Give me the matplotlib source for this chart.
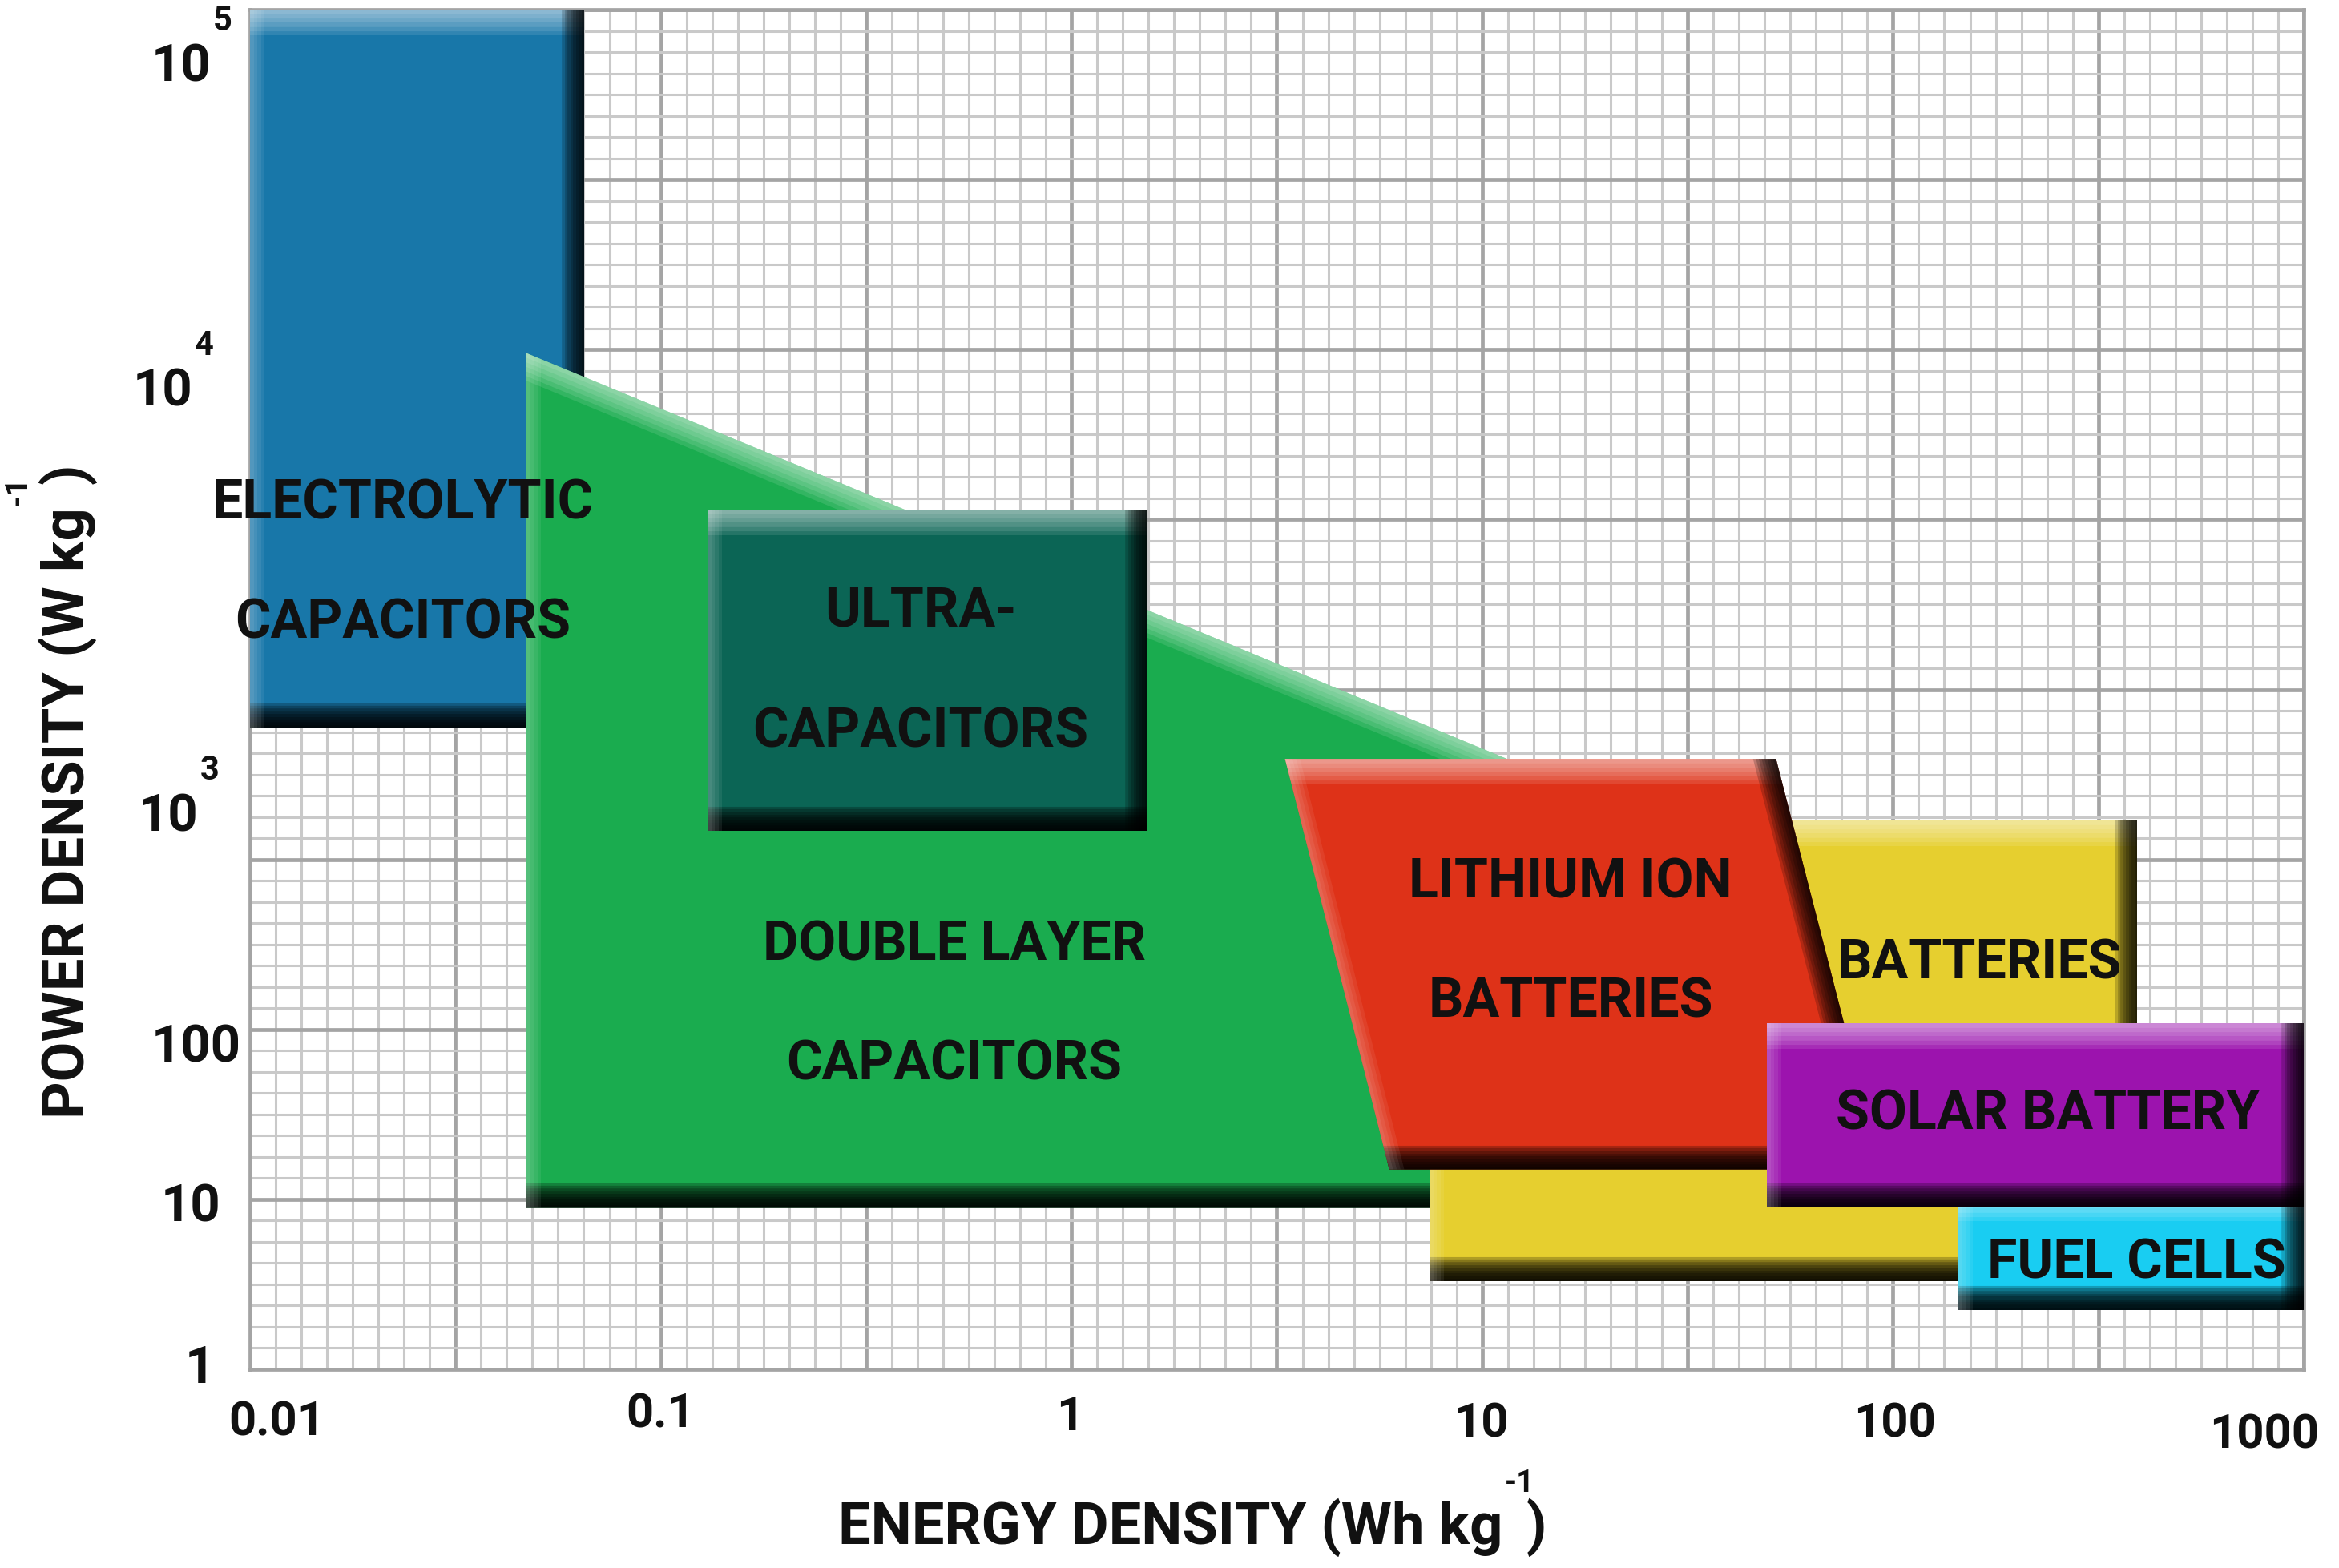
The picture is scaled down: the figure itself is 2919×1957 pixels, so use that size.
import numpy as np
import matplotlib
matplotlib.use('Agg')
import matplotlib.pyplot as plt
from matplotlib.patches import Polygon
from matplotlib import transforms
from matplotlib.ticker import NullLocator

plt.rcParams['font.family'] = ['Roboto', 'DejaVu Sans']
plt.rcParams['font.weight'] = 'bold'

# region outlines: energy density (Wh/kg) and power density (W/kg)
elec_x = [0.01, 0.065, 0.065, 0.01]
elec_y = [1.5e5, 1.5e5, 1620, 1620]
dlc_x = [0.047, 24, 24, 0.047]
dlc_y = [13200, 1020, 10, 10]
ultra_x = [0.13, 1.53, 1.53, 0.13]
ultra_y = [5280, 5280, 873, 873]
batt_x = [7.45, 392, 392, 7.45]
batt_y = [968, 968, 3.5, 3.5]
li_x = [3.31, 51.9, 93.8, 5.94]
li_y = [1370, 1370, 17.4, 17.4]
fuel_x = [144, 1000, 1000, 144]
fuel_y = [12, 12, 2.34, 2.34]
solar_x = [49.3, 1000, 1000, 49.3]
solar_y = [128, 128, 10.1, 10.1]

x_ticks = [0.01, 0.1, 1, 10, 100, 1000]
x_tick_labels = ['0.01', '0.1', '1', '10', '100', '1000']
y_ticks = [1, 10, 100, 1e3, 1e4, 1e5]
y_tick_labels = ['1', '10', '100', '10', '10', '10']
y_tick_sups = ['', '', '', '3', '4', '5']

# the power axis of the original is hand drawn: decades are not evenly spaced
Y_LOG = [0, 1, 2, 3, 4, 5, np.log10(1.5e5)]
Y_POS = [0, 0.95, 1.89, 3.25, 5.75, 7.66, 8.0]


def y_fwd(v):
    with np.errstate(divide='ignore', invalid='ignore'):
        return np.interp(np.log10(v), Y_LOG, Y_POS)


def y_inv(g):
    return 10 ** np.interp(g, Y_POS, Y_LOG)


TOP = ('white', 46, 6, 0.11)
LEFT = ('white', 26, 4, 0.07)
BOTTOM = ('black', 44, 9, 0.24)
RIGHT = ('black', 40, 8, 0.2)
BOX_EDGES = [(0, 1, TOP), (1, 2, RIGHT), (2, 3, BOTTOM), (3, 0, LEFT)]


def region(ax, xs, ys, color, z):
    patch = Polygon(np.column_stack([xs, ys]), closed=True, facecolor=color,
                    edgecolor='none', zorder=z)
    ax.add_patch(patch)
    # fake bevel: stacked thick strokes along each edge, clipped to the shape
    for i, j, (c, w, n, a) in BOX_EDGES:
        for k in range(1, n + 1):
            ln, = ax.plot([xs[i], xs[j]], [ys[i], ys[j]], color=c, lw=w * k / n,
                          alpha=a, solid_capstyle='projecting', zorder=z + 0.1)
            ln.set_clip_path(patch)
    return patch


W, H = 2919, 1957
fig = plt.figure(figsize=(W / 100, H / 100), dpi=100)
rect = [312 / W, 1 - 1709 / H, 2563 / W, 1697 / H]

# graph paper background
bg = fig.add_axes(rect, zorder=1)
bg.set_xlim(0, 10)
bg.set_ylim(0, 8)
bg.set_xticks(np.arange(0, 11))
bg.set_yticks(np.arange(0, 9))
bg.set_xticks(np.arange(0, 10.01, 0.125), minor=True)
bg.set_yticks(np.arange(0, 8.01, 0.125), minor=True)
bg.grid(which='minor', color='#c9c9c9', lw=2.2)
bg.grid(which='major', color='#a4a4a4', lw=3.4)
bg.tick_params(which='both', length=0, labelleft=False, labelbottom=False)
for s in bg.spines.values():
    s.set_color('#a4a4a4')
    s.set_linewidth(3.4)

ax = fig.add_axes(rect, zorder=2)
ax.set_facecolor('none')
ax.set_xscale('log')
ax.set_yscale('function', functions=(y_fwd, y_inv))

region(ax, elec_x, elec_y, '#1877a9', 1)
region(ax, dlc_x, dlc_y, '#1aac4f', 2)
region(ax, ultra_x, ultra_y, '#0b6555', 3)
region(ax, batt_x, batt_y, '#e6cf2f', 4)
region(ax, li_x, li_y, '#de3218', 5)
region(ax, fuel_x, fuel_y, '#19cdf2', 6)
region(ax, solar_x, solar_y, '#9c13ae', 7)

ax.set_xlim(0.01, 1000)
ax.set_ylim(1, 1.5e5)
ax.set_xticks([])
ax.set_yticks([])
ax.xaxis.set_minor_locator(NullLocator())
ax.yaxis.set_minor_locator(NullLocator())
for s in ax.spines.values():
    s.set_visible(False)

txt = '#111111'
labels = [
    ('ELECTROLYTIC', 0.0744, 0.6363), ('CAPACITORS', 0.0744, 0.5486),
    ('ULTRA-', 0.3264, 0.5575), ('CAPACITORS', 0.3264, 0.4685),
    ('DOUBLE LAYER', 0.3430, 0.3117), ('CAPACITORS', 0.3430, 0.2239),
    ('LITHIUM ION', 0.6430, 0.3577), ('BATTERIES', 0.6430, 0.2699),
    ('BATTERIES', 0.8420, 0.2982), ('SOLAR BATTERY', 0.8755, 0.1874),
    ('FUEL CELLS', 0.9185, 0.0778),
]
for s, fx, fy in labels:
    ax.text(fx, fy, s, transform=ax.transAxes, ha='center', va='center',
            fontsize=49, color=txt, zorder=20)

# tick labels, placed like the original
ytr = transforms.blended_transform_factory(ax.transAxes, ax.transData)
y_dx = [-44, -37, -11, -65, -72, -49]
for v, lab, sup, dx in zip(y_ticks, y_tick_labels, y_tick_sups, y_dx):
    ax.text(0, v, lab, fontsize=47, color=txt, ha='right', va='center',
            transform=transforms.offset_copy(ytr, fig=fig, x=dx, y=0, units='dots'))
    if sup:
        ax.text(0, v, sup, fontsize=30, color=txt, ha='left', va='center',
                transform=transforms.offset_copy(ytr, fig=fig, x=dx + 3, y=58, units='dots'))

xtr = transforms.blended_transform_factory(ax.transData, ax.transAxes)
x_dx = [33, 0, -2, -1, 2, -49]
x_dy = [-67, -56, -60, -69, -69, -82]
for v, lab, dx, dy in zip(x_ticks, x_tick_labels, x_dx, x_dy):
    ax.text(v, 0, lab, fontsize=43, color=txt, ha='center', va='center',
            transform=transforms.offset_copy(xtr, fig=fig, x=dx, y=dy, units='dots'))

# axis titles with the detached superscript of the original
xl = fig.text(1046 / W, 1 - 1927 / H, 'ENERGY DENSITY (Wh kg', fontsize=52,
              color=txt, ha='left', va='baseline')
ax.annotate(')', xy=(1, 0), xycoords=xl, xytext=(29, 0), textcoords='offset pixels',
            fontsize=52, color=txt, ha='left', va='bottom', annotation_clip=False)
ax.annotate('-1', xy=(1, 1), xycoords=xl, xytext=(2, 0), textcoords='offset pixels',
            fontsize=28, color=txt, ha='left', va='bottom', annotation_clip=False)

yl = fig.text(84 / W, 1 - 1396 / H, 'POWER DENSITY (W kg', fontsize=52, color=txt,
              rotation=90, ha='center', va='bottom')
ax.annotate(')', xy=(0, 1), xycoords=yl, xytext=(0, 29), textcoords='offset pixels',
            fontsize=52, color=txt, rotation=90, ha='left', va='bottom',
            annotation_clip=False)
ax.annotate('-1', xy=(0, 1), xycoords=yl, xytext=(-6, 2), textcoords='offset pixels',
            fontsize=28, color=txt, rotation=90, ha='right', va='bottom',
            annotation_clip=False)

fig.savefig('out.png', dpi=100)
